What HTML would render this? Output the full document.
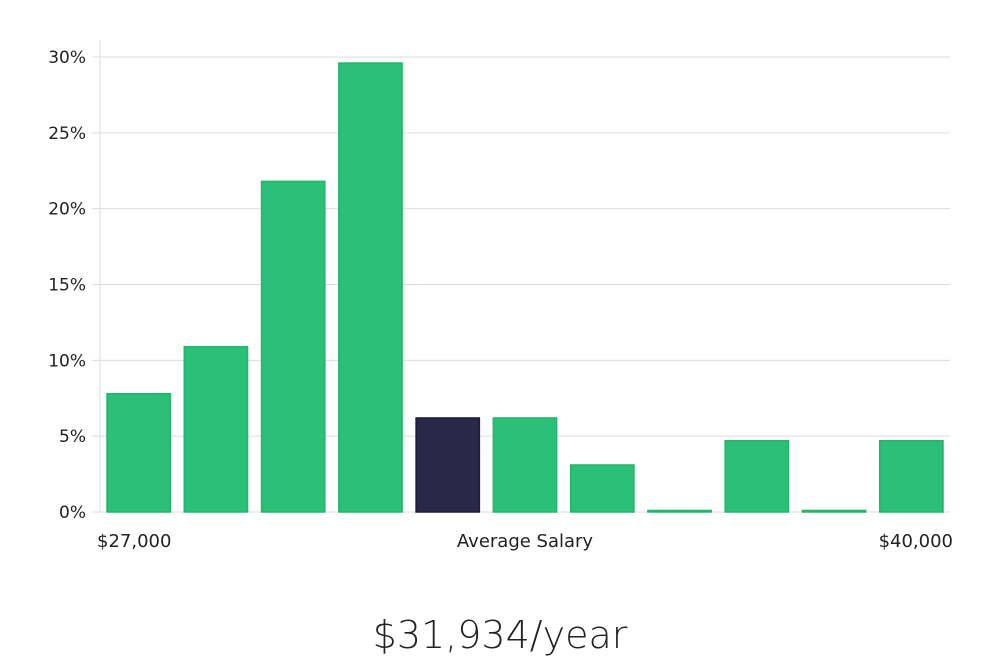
<!DOCTYPE html>
<html><head><meta charset="utf-8"><style>
body{margin:0;background:#fff;width:1000px;height:660px;overflow:hidden;font-family:"Liberation Sans","DejaVu Sans",sans-serif}
svg text{font-family:"DejaVu Sans","Liberation Sans",sans-serif}
</style></head><body>
<svg id="chart" width="1000" height="660" xmlns="http://www.w3.org/2000/svg"></svg>
<script>
const categories=["b1","b2","b3","b4","b5","b6","b7","b8","b9","b10","b11"];
const values=[7.8,10.9,21.8,29.6,6.2,6.2,3.1,0.1,4.7,0.1,4.7];
const highlight=[false,false,false,false,true,false,false,false,false,false,false];
const yTicks=[0,5,10,15,20,25,30];
const xLabels=["$27,000","Average Salary","$40,000"];
const ns="http://www.w3.org/2000/svg";
const svg=document.getElementById('chart');
const x0=100,x1=950,y0=512,yTop=57;
const y=v=>y0-(v/30)*(y0-yTop);
const slot=(x1-x0)/categories.length;
function mk(t,a){const e=document.createElementNS(ns,t);for(const k in a)e.setAttribute(k,a[k]);svg.appendChild(e);return e;}
yTicks.forEach(t=>{
 const l=mk('line',{x1:x0-8,x2:x1,y1:y(t),y2:y(t),stroke:'#dcdcdc','stroke-width':1});
 
 
 const tx=mk('text',{x:86,y:y(t)+6,'text-anchor':'end','font-size':17,fill:'#222'});
 tx.textContent=t+'%';
 
 
});
const ax=mk('line',{x1:x0,x2:x0,y1:40,y2:y0,stroke:'#dcdcdc','stroke-width':1});


categories.forEach((c,i)=>{
 const bx=x0+i*slot+7, w=slot-14, top=y(values[i]);
 const r=mk('rect',{x:bx,y:top,width:w,height:Math.max(1,y0-top),fill:highlight[i]?'#2a2748':'#2bbf77',stroke:highlight[i]?'#1e1b3a':'#22b56c','stroke-width':1.5});
 
 
});
const xl=[[97,'start'],[525,'middle'],[953,'end']];
xLabels.forEach((s,i)=>{
 const t=mk('text',{x:xl[i][0],y:547,'text-anchor':xl[i][1],'font-size':18,fill:'#222'});
 t.textContent=s;
 
 
});
const ti=mk('text',{x:500,y:648,'text-anchor':'middle','font-size':38,fill:'#222','font-weight':300});
ti.textContent='$31,934/year';


</script>
</body></html>
